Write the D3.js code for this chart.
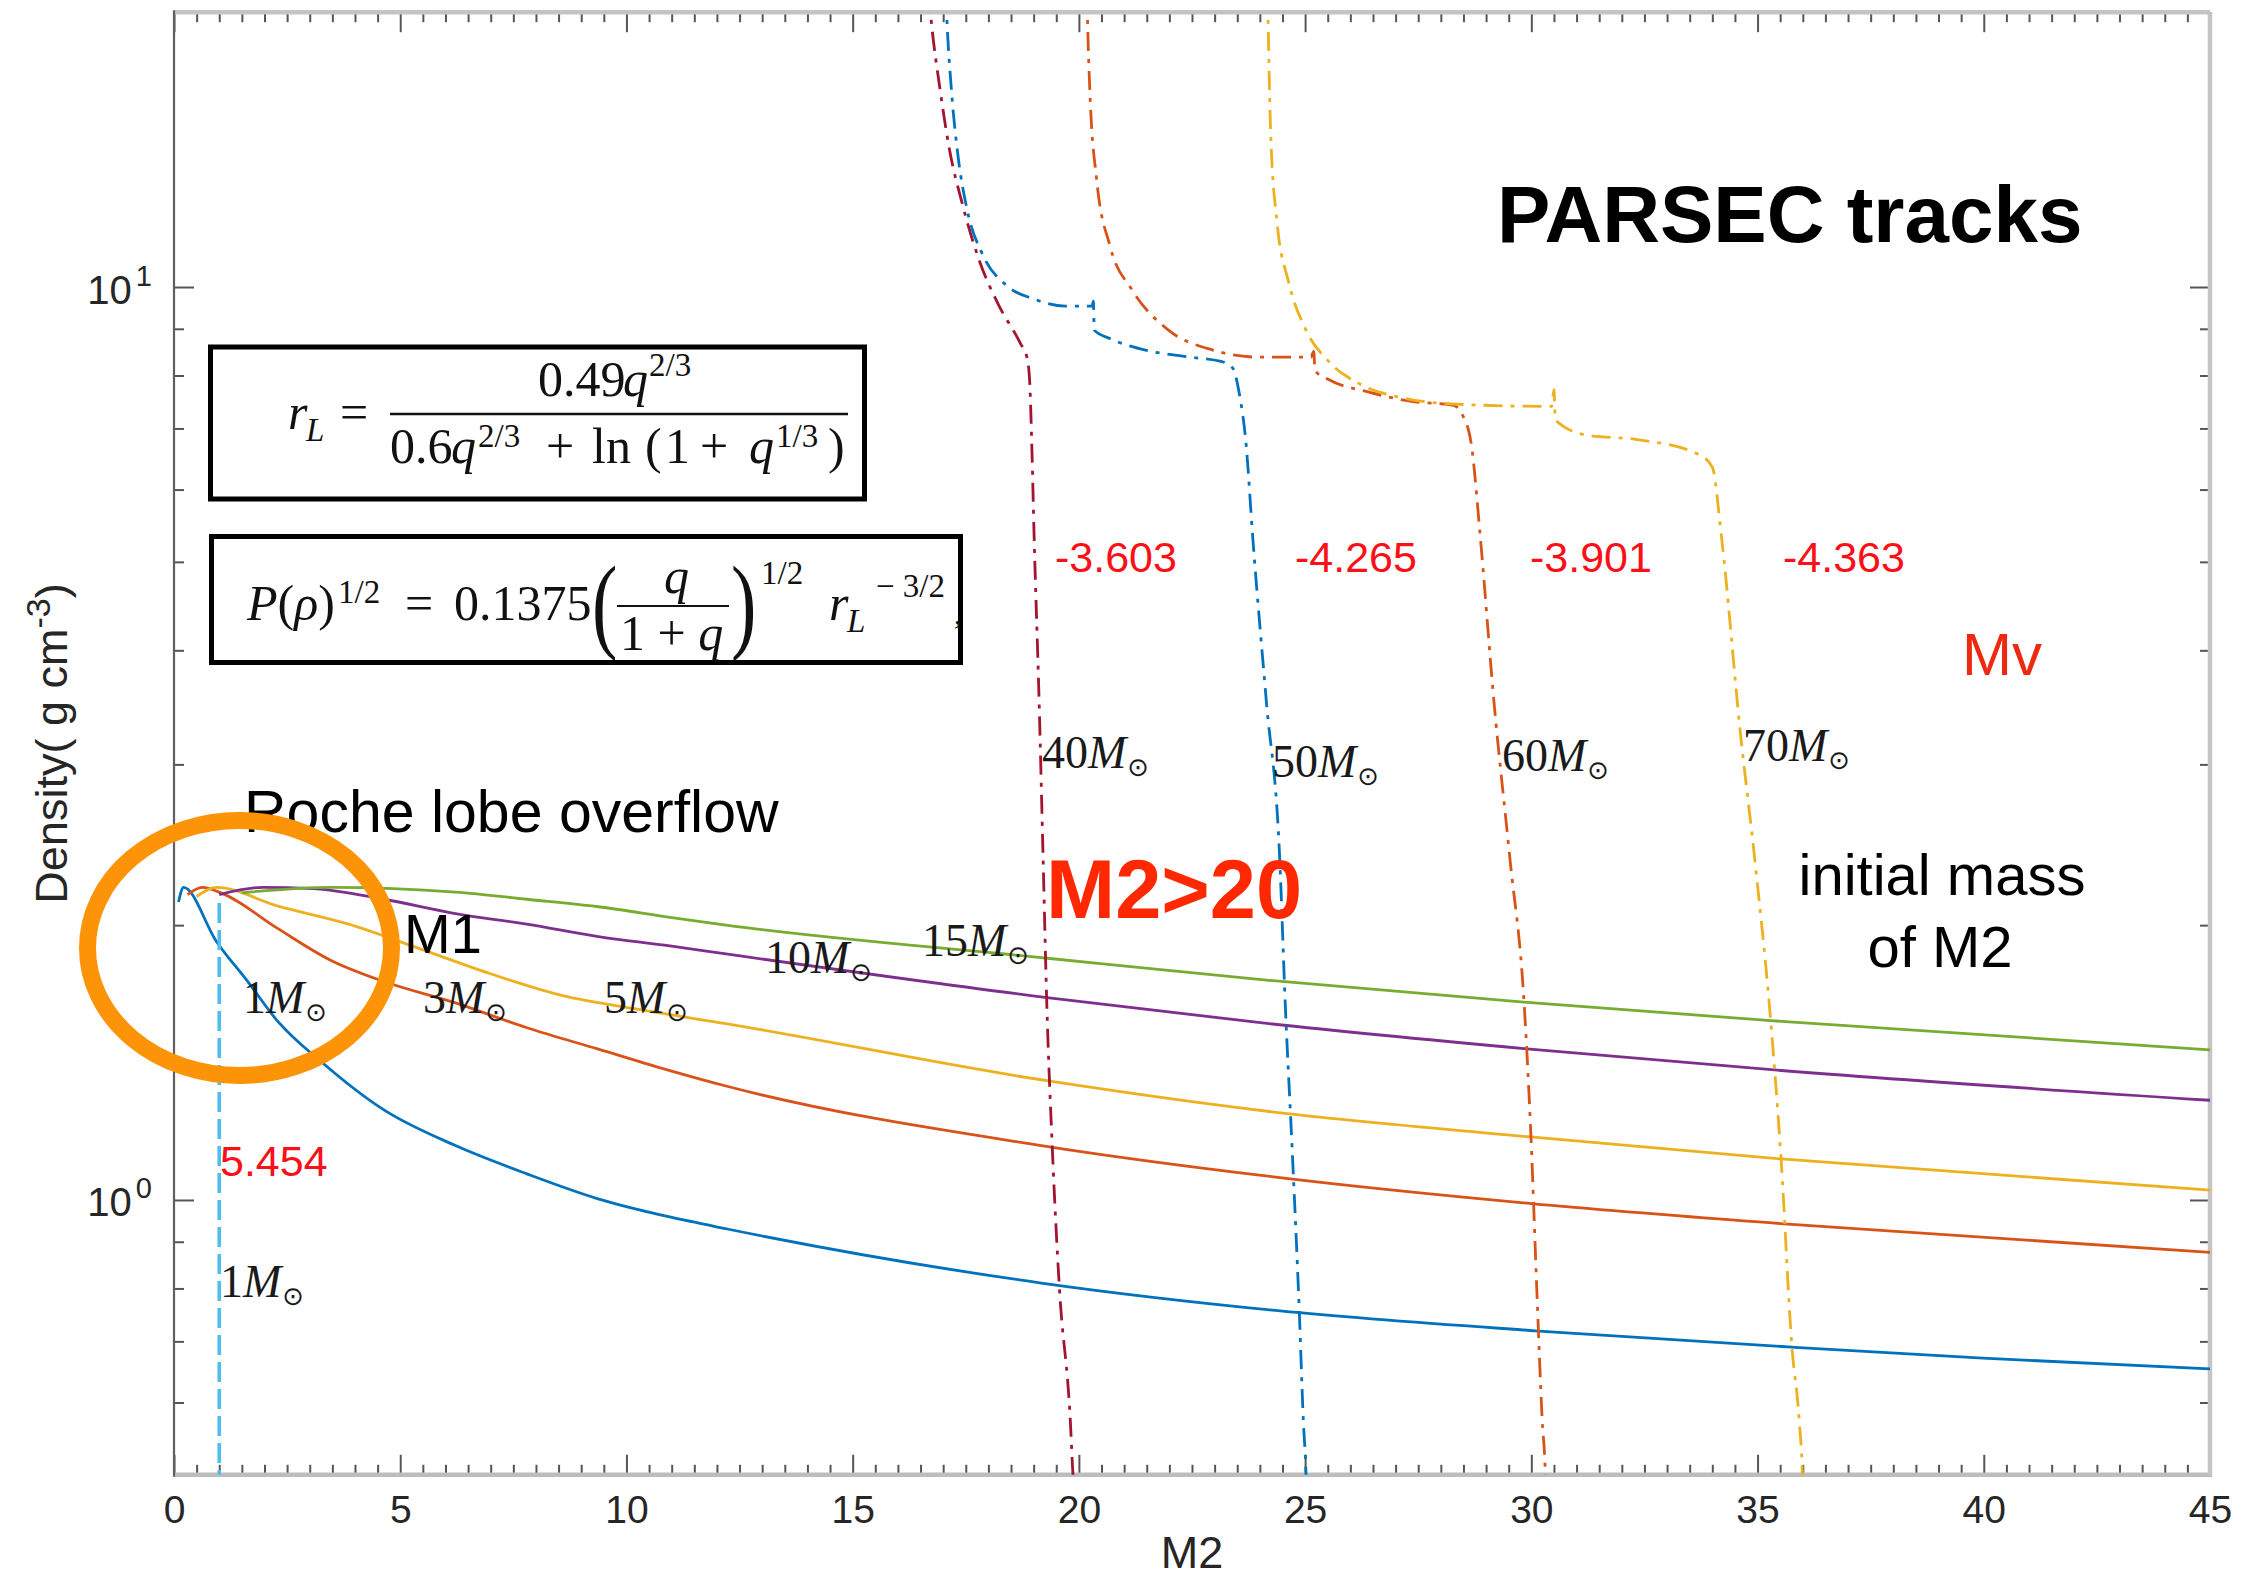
<!DOCTYPE html>
<html>
<head>
<meta charset="utf-8">
<script src="https://cdn.jsdelivr.net/npm/d3@7"></script>
<style>
  html, body { margin: 0; padding: 0; background: #fff; }
  svg { display: block; }
</style>
</head>
<body>
<svg id="chart" width="2250" height="1580"></svg>
<script>
// ---------- axes ----------
const xDomain = [0, 45];
const yDomain = [0.5, 20];
const xMajorTicks = [0, 5, 10, 15, 20, 25, 30, 35, 40, 45];
const yMajorTicks = [1, 10];
const yMajorExponents = ["0", "1"];

// ---------- Roche-lobe-filling density vs M2, one curve per primary mass M1 ----------
const m1Masses = ["1", "3", "5", "10", "15"];
const m1_1 = [[0.10, 2.12], [0.21, 2.20], [0.94, 1.918], [1.61, 1.74], [2.28, 1.572], [3.30, 1.411],
  [4.64, 1.255], [6.22, 1.147], [7.80, 1.068], [9.37, 1.003], [10.96, 0.958], [12.2, 0.930],
  [19.17, 0.811], [24.45, 0.756], [30.08, 0.719], [35.76, 0.690], [39.98, 0.671], [45, 0.653]];
const m1_3 = [[0.30, 2.16], [0.62, 2.20], [1.10, 2.163], [2.28, 1.985], [3.46, 1.831], [4.64, 1.735],
  [6.22, 1.644], [7.80, 1.544], [9.38, 1.463], [10.96, 1.386], [12.2, 1.333], [19.17, 1.147],
  [24.3, 1.060], [30.0, 0.991], [35.67, 0.941], [45, 0.876]];
const m1_5 = [[0.50, 2.15], [0.94, 2.20], [2.28, 2.10], [3.86, 2.005], [5.44, 1.884], [7.01, 1.768],
  [8.59, 1.674], [10.17, 1.620], [12.2, 1.560], [19.33, 1.350], [24.2, 1.250], [29.92, 1.173],
  [35.52, 1.109], [45, 1.025]];
const m1_10 = [[1.00, 2.16], [1.97, 2.20], [3.07, 2.193], [4.64, 2.135], [6.22, 2.059], [7.80, 2.005],
  [9.38, 1.943], [10.96, 1.898], [12.2, 1.860], [19.25, 1.667], [24.2, 1.560], [29.84, 1.465],
  [35.37, 1.388], [45, 1.286]];
const m1_15 = [[1.50, 2.17], [3.46, 2.20], [6.22, 2.174], [7.80, 2.135], [9.38, 2.095], [10.96, 2.040],
  [12.2, 2.000], [19.25, 1.841], [24.2, 1.740], [29.77, 1.648], [35.29, 1.572], [45, 1.460]];

// ---------- PARSEC evolutionary tracks of the secondary (initial mass of M2) ----------
const trackMasses = ["1", "40", "50", "60", "70"];
const track1 = [[1.0, 2.115], [1.0, 0.48]];
const track40 = [[16.68, 21], [16.73, 19.72], [16.93, 16.48], [17.13, 14.23], [17.43, 12.30], [17.82, 10.62],
  [18.21, 9.59], [18.71, 8.67], [18.85, 8.38], [18.91, 7.92], [18.96, 6.69], [19.01, 5.34],
  [19.12, 3.53], [19.21, 2.357], [19.29, 1.644], [19.41, 1.147], [19.57, 0.800], [19.81, 0.574],
  [19.87, 0.50], [19.90, 0.48]];
const track50 = [[17.06, 21], [17.08, 19.8], [17.18, 16.5], [17.33, 13.9], [17.53, 12.15], [17.87, 10.86],
  [18.41, 10.03], [19.01, 9.70], [19.70, 9.53], [20.29, 9.53], [20.32, 9.65], [20.34, 8.97],
  [20.69, 8.78], [21.47, 8.53], [22.46, 8.38], [23.14, 8.29], [23.40, 8.15], [23.54, 7.67],
  [23.70, 6.69], [23.84, 5.34], [24.14, 3.53], [24.44, 2.357], [24.56, 1.644], [24.71, 1.147],
  [24.87, 0.758], [24.96, 0.574], [25.02, 0.50], [25.03, 0.48]];
const track60 = [[20.18, 21], [20.19, 19.8], [20.24, 16.5], [20.39, 13.14], [20.69, 11.08], [21.18, 9.92],
  [21.98, 8.97], [22.96, 8.53], [23.94, 8.38], [25.13, 8.38], [25.19, 8.50], [25.22, 8.10],
  [25.52, 7.92], [26.41, 7.67], [27.39, 7.49], [28.28, 7.42], [28.48, 7.24], [28.68, 6.69],
  [28.87, 5.34], [29.17, 3.53], [29.53, 2.357], [29.84, 1.644], [30.0, 1.147], [30.12, 0.800],
  [30.24, 0.574], [30.31, 0.50], [30.32, 0.48]];
const track70 = [[24.17, 21], [24.18, 19.8], [24.24, 14.68], [24.38, 11.77], [24.63, 10.15], [25.02, 8.97],
  [25.52, 8.29], [26.21, 7.83], [27.10, 7.57], [28.39, 7.44], [30.45, 7.40], [30.50, 7.72],
  [30.53, 7.15], [31.24, 6.88], [32.3, 6.81], [33.69, 6.56], [34.0, 6.35], [34.2, 5.34],
  [34.62, 3.25], [34.94, 2.357], [35.29, 1.572], [35.52, 1.109], [35.76, 0.690], [35.92, 0.574],
  [35.99, 0.50], [36.0, 0.48]];

// absolute V magnitudes of the tracks
const trackMv = ["5.454", "-3.603", "-4.265", "-3.901", "-4.363"];

// ---------- layout ----------
const plot = { left: 174, right: 2210, top: 12.2, bottom: 1474.8 };

const svg = d3.select("#chart");
const x = d3.scaleLinear().domain(xDomain).range([plot.left, plot.right]);
const y = d3.scaleLog().domain(yDomain).range([plot.bottom, plot.top]);

const sans = "'Liberation Sans', Arial, Helvetica, sans-serif";
const serif = "'Liberation Serif', 'Times New Roman', serif";

svg.append("defs").append("clipPath").attr("id", "plotClip")
  .append("rect")
  .attr("x", plot.left).attr("y", plot.top)
  .attr("width", plot.right - plot.left).attr("height", plot.bottom - plot.top);

// ---------- ticks (inward on all four sides) ----------
const xMinorTicks = d3.range(0, 45.001, 0.5).filter(v => !xMajorTicks.includes(v));
const yAllTicks = y.ticks();
const yMinorTicks = yAllTicks.filter(v => !yMajorTicks.includes(v) && v > yDomain[0] && v < yDomain[1]);

const tickColor = "#555";
function styleAxis(g) {
  g.select(".domain").remove();
  g.selectAll(".tick line").attr("stroke", tickColor).attr("stroke-width", 2);
}
const axes = svg.append("g").attr("class", "axes");

axes.append("g").attr("transform", `translate(0,${plot.bottom})`)
  .call(d3.axisBottom(x).tickValues(xMinorTicks).tickSize(-10).tickFormat("")).call(styleAxis);
axes.append("g").attr("transform", `translate(0,${plot.top})`)
  .call(d3.axisTop(x).tickValues(xMinorTicks).tickSize(-10).tickFormat("")).call(styleAxis);
axes.append("g").attr("transform", `translate(0,${plot.top})`)
  .call(d3.axisTop(x).tickValues(xMajorTicks).tickSize(-20).tickFormat("")).call(styleAxis);
const xAxisG = axes.append("g").attr("transform", `translate(0,${plot.bottom})`)
  .call(d3.axisBottom(x).tickValues(xMajorTicks).tickSize(-20).tickPadding(0).tickFormat(d3.format("d")))
  .call(styleAxis);
xAxisG.selectAll(".tick text")
  .attr("y", 48).attr("dy", null)
  .attr("font-family", sans).attr("font-size", 39).attr("fill", "#262626");

axes.append("g").attr("transform", `translate(${plot.left},0)`)
  .call(d3.axisLeft(y).tickValues(yMinorTicks).tickSize(-10).tickFormat("")).call(styleAxis);
axes.append("g").attr("transform", `translate(${plot.right},0)`)
  .call(d3.axisRight(y).tickValues(yMinorTicks).tickSize(-10).tickFormat("")).call(styleAxis);
axes.append("g").attr("transform", `translate(${plot.right},0)`)
  .call(d3.axisRight(y).tickValues(yMajorTicks).tickSize(-20).tickFormat("")).call(styleAxis);
const yAxisG = axes.append("g").attr("transform", `translate(${plot.left},0)`)
  .call(d3.axisLeft(y).tickValues(yMajorTicks).tickSize(-20).tickFormat(""))
  .call(styleAxis);
yAxisG.selectAll(".tick").each(function (d, i) {
  const t = d3.select(this).select("text")
    .attr("x", -22).attr("y", 16).attr("dy", null)
    .attr("text-anchor", "end")
    .attr("font-family", sans).attr("font-size", 40).attr("fill", "#262626");
  t.text(null);
  t.append("tspan").text("10");
  t.append("tspan").attr("font-size", 29).attr("dy", -18).attr("dx", 4).text(yMajorExponents[i]);
});

// frame
const frame = axes.append("g");
frame.append("line").attr("x1", plot.left).attr("x2", plot.right).attr("y1", plot.top).attr("y2", plot.top)
  .attr("stroke", "#c4c4c4").attr("stroke-width", 4.5);
frame.append("line").attr("x1", plot.left).attr("x2", plot.right + 2).attr("y1", plot.bottom).attr("y2", plot.bottom)
  .attr("stroke", "#bdbdbd").attr("stroke-width", 4.5);
frame.append("line").attr("x1", plot.right).attr("x2", plot.right).attr("y1", plot.top).attr("y2", plot.bottom)
  .attr("stroke", "#c4c4c4").attr("stroke-width", 4.5);
frame.append("line").attr("x1", plot.left).attr("x2", plot.left).attr("y1", plot.top - 2).attr("y2", plot.bottom + 2)
  .attr("stroke", "#5f5f5f").attr("stroke-width", 2.2);

// axis titles
svg.append("text")
  .attr("x", (plot.left + plot.right) / 2).attr("y", 1568)
  .attr("text-anchor", "middle").attr("font-family", sans).attr("font-size", 45).attr("fill", "#262626")
  .text("M2");
const yTitle = svg.append("text")
  .attr("transform", `translate(67,${(plot.top + plot.bottom) / 2}) rotate(-90)`)
  .attr("text-anchor", "middle").attr("font-family", sans).attr("font-size", 45).attr("fill", "#262626");
yTitle.append("tspan").text("Density( g cm");
yTitle.append("tspan").attr("font-size", 34).attr("dy", -17).text("-3");
yTitle.append("tspan").attr("dy", 17).text(")");

// ---------- curves ----------
const line = d3.line().x(d => x(d[0])).y(d => y(d[1])).curve(d3.curveMonotoneX);
const marks = svg.append("g").attr("clip-path", "url(#plotClip)");

const m1Series = [m1_1, m1_3, m1_5, m1_10, m1_15];
const m1Colors = ["#0072BD", "#D95319", "#EDB120", "#7E2F8E", "#77AC30"];
marks.selectAll("path.m1").data(m1Series).join("path")
  .attr("class", "m1")
  .attr("d", line)
  .attr("fill", "none")
  .attr("stroke", (d, i) => m1Colors[i])
  .attr("stroke-width", 2.8);

const trackSeries = [track1, track40, track50, track60, track70];
const trackColors = ["#4DBEEE", "#A2142F", "#0072BD", "#D95319", "#EDB120"];
const trackDash = ["20,7", "19,8,4,8", "19,8,4,8", "19,8,4,8", "19,8,4,8"];
marks.selectAll("path.track").data(trackSeries).join("path")
  .attr("class", "track")
  .attr("d", line)
  .attr("fill", "none")
  .attr("stroke", (d, i) => trackColors[i])
  .attr("stroke-width", (d, i) => i === 0 ? 3.6 : 2.8)
  .attr("stroke-dasharray", (d, i) => trackDash[i]);

// ---------- labels ----------
const notes = svg.append("g");

function massLabel(px, py, mass) {
  const t = notes.append("text").attr("x", px).attr("y", py)
    .attr("font-family", serif).attr("font-size", 46).attr("fill", "#1a1a1a");
  t.append("tspan").text(mass);
  t.append("tspan").attr("font-style", "italic").text("M");
  t.append("tspan").attr("font-family", "'DejaVu Sans', sans-serif").attr("font-size", 26)
    .attr("dy", 8).attr("dx", 1).text("\u2299");
}
// primary masses along the solid curves
massLabel(243, 1013, m1Masses[0]);
massLabel(423, 1013, m1Masses[1]);
massLabel(604, 1013, m1Masses[2]);
massLabel(765, 973, m1Masses[3]);
massLabel(922, 956, m1Masses[4]);
// track masses
massLabel(220, 1297, trackMasses[0]);
massLabel(1042, 768, trackMasses[1]);
massLabel(1272, 777, trackMasses[2]);
massLabel(1502, 771, trackMasses[3]);
massLabel(1743, 761, trackMasses[4]);

// Mv values of the tracks
const mvColor = "#fb1018";
[[220, 1176], [1055, 572], [1295, 572], [1530, 572], [1783, 572]].forEach((p, i) => {
  notes.append("text").attr("x", p[0]).attr("y", p[1])
    .attr("font-family", sans).attr("font-size", 43).attr("fill", mvColor)
    .text(trackMv[i]);
});

notes.append("text").attr("x", 1962).attr("y", 675)
  .attr("font-family", sans).attr("font-size", 60).attr("fill", "#ec2a12").text("Mv");

notes.append("text").attr("x", 1497).attr("y", 242)
  .attr("font-family", sans).attr("font-weight", "bold").attr("font-size", 80).attr("fill", "#000")
  .text("PARSEC tracks");

notes.append("text").attr("x", 1046).attr("y", 918)
  .attr("font-family", sans).attr("font-weight", "bold").attr("font-size", 83).attr("fill", "#ff2800")
  .text("M2>20");

notes.append("text").attr("x", 1942).attr("y", 895).attr("text-anchor", "middle")
  .attr("font-family", sans).attr("font-size", 58).attr("fill", "#000").text("initial mass");
notes.append("text").attr("x", 1940).attr("y", 967).attr("text-anchor", "middle")
  .attr("font-family", sans).attr("font-size", 58).attr("fill", "#000").text("of M2");

notes.append("text").attr("x", 244).attr("y", 832)
  .attr("font-family", sans).attr("font-size", 59).attr("fill", "#000").text("Roche lobe overflow");

notes.append("text").attr("x", 404).attr("y", 953)
  .attr("font-family", sans).attr("font-size", 56).attr("fill", "#000").text("M1");

// ---------- formula boxes ----------
const eq = svg.append("g").attr("font-family", serif).attr("fill", "#111");
function put(str, px, py, size, italic) {
  return eq.append("text").attr("x", px).attr("y", py).attr("font-size", size)
    .attr("font-style", italic ? "italic" : "normal").text(str);
}
// Eggleton Roche-lobe radius
eq.append("rect").attr("x", 210.5).attr("y", 347).attr("width", 654).attr("height", 152)
  .attr("fill", "none").attr("stroke", "#000").attr("stroke-width", 5);
put("r", 288, 429, 50, true);
put("L", 306, 441, 33, true);
put("=", 340, 429, 50, false);
put("0.49", 538, 396, 50, false);
put("q", 623, 396, 50, true);
put("2/3", 649, 376, 33, false);
eq.append("line").attr("x1", 390).attr("x2", 848).attr("y1", 414).attr("y2", 414)
  .attr("stroke", "#111").attr("stroke-width", 2.4);
put("0.6", 390, 463, 50, false);
put("q", 451, 463, 50, true);
put("2/3", 478, 447, 33, false);
put("+", 546, 463, 50, false);
put("ln", 592, 463, 50, false);
put("(", 645, 463, 50, false);
put("1", 665, 463, 50, false);
put("+", 700, 463, 50, false);
put("q", 749, 463, 50, true);
put("1/3", 776, 447, 33, false);
put(")", 828, 463, 50, false);

// period-density relation
eq.append("rect").attr("x", 211.5).attr("y", 536.5).attr("width", 749).attr("height", 126)
  .attr("fill", "none").attr("stroke", "#000").attr("stroke-width", 5);
const pr = eq.append("text").attr("x", 247).attr("y", 620).attr("font-size", 50);
pr.append("tspan").attr("font-style", "italic").text("P");
pr.append("tspan").text("(");
pr.append("tspan").attr("font-style", "italic").text("\u03c1");
pr.append("tspan").text(")");
put("1/2", 338, 603, 33, false);
put("=", 405, 620, 50, false);
put("0.1375", 454, 620, 50, false);
eq.append("text").attr("transform", "translate(592,639) scale(0.72,1)").attr("font-size", 106).text("(");
put("q", 664, 593, 50, true);
eq.append("line").attr("x1", 617).attr("x2", 729).attr("y1", 606).attr("y2", 606)
  .attr("stroke", "#111").attr("stroke-width", 2.2);
const den = eq.append("text").attr("x", 620).attr("y", 650).attr("font-size", 50);
den.append("tspan").text("1 + ");
den.append("tspan").attr("font-style", "italic").text("q");
eq.append("text").attr("transform", "translate(731,639) scale(0.72,1)").attr("font-size", 106).text(")");
put("1/2", 761, 584, 33, false);
put("r", 829, 620, 50, true);
put("L", 847, 632, 33, true);
put("\u2212 3/2", 876, 597, 33, false);
put(",", 954, 624, 30, false);

// ---------- Roche-lobe overflow highlight ----------
svg.append("ellipse")
  .attr("cx", 239.5).attr("cy", 948).attr("rx", 152).attr("ry", 127.5)
  .attr("fill", "none").attr("stroke", "#fd9306").attr("stroke-width", 17);
</script>
</body>
</html>
